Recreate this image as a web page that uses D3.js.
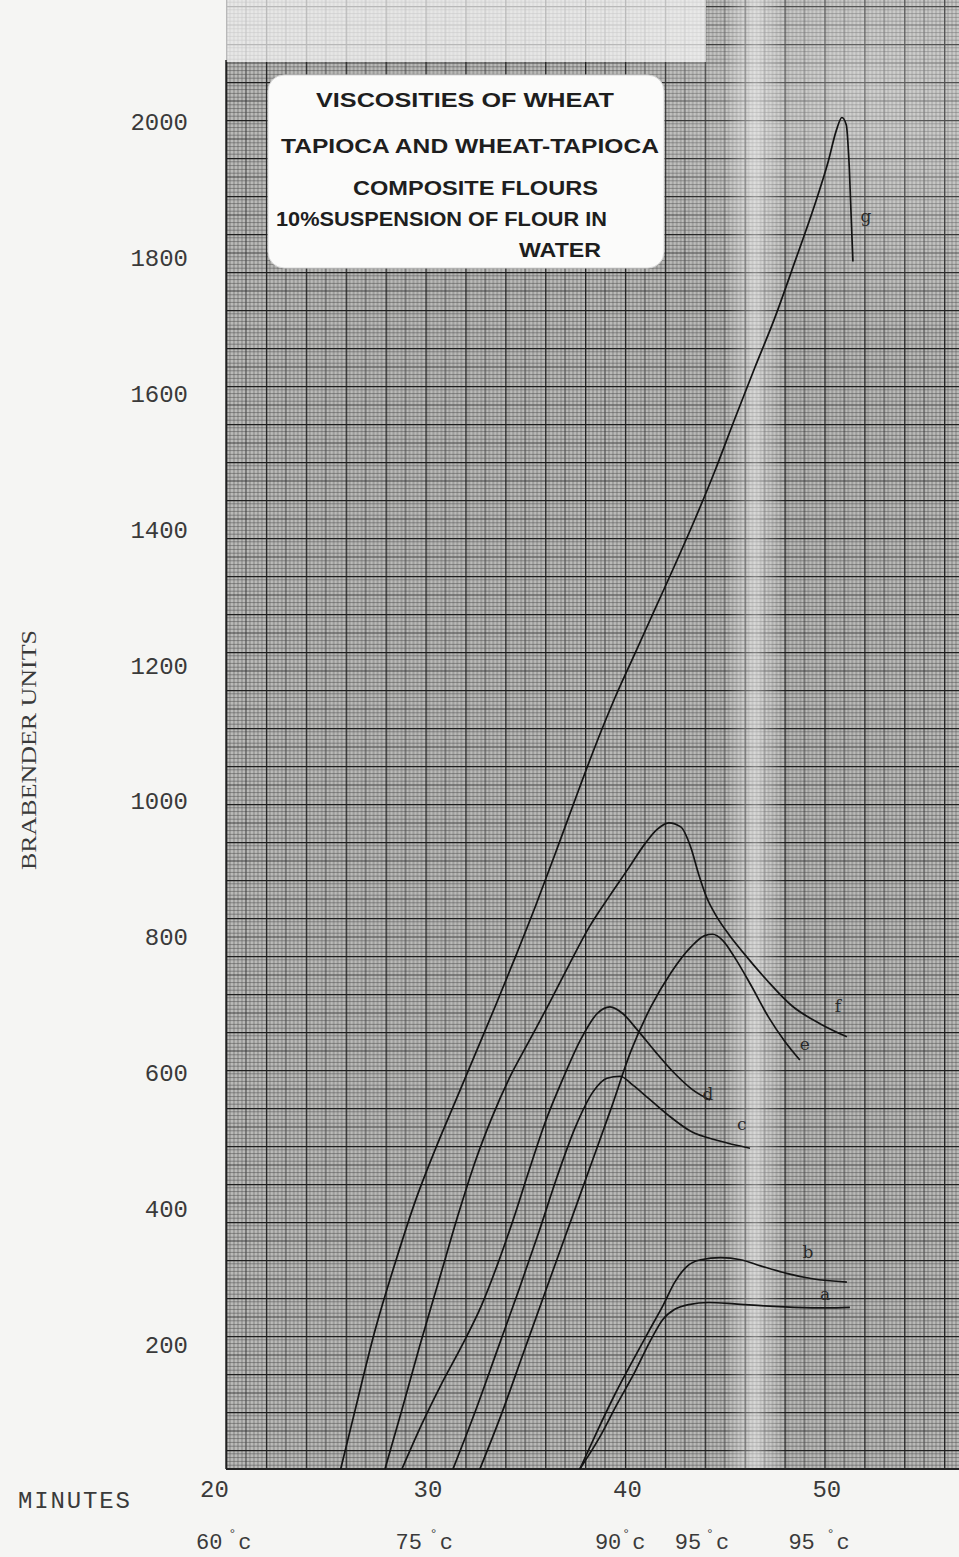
<!DOCTYPE html>
<html>
<head>
<meta charset="utf-8" />
<title>Viscosities of wheat, tapioca and wheat-tapioca composite flours</title>
<script src="https://d3js.org/d3.v7.min.js"></script>
<style>
    body { margin: 0; background: #f5f5f3; }
    svg { display: block; }
    .mono { font-family: "Liberation Mono", "DejaVu Sans Mono", monospace; fill: #3a3a3a; }
    .title { font-family: "Liberation Sans Narrow", "Arial Narrow", "Liberation Sans", sans-serif; fill: #1e1e1e; }
</style>
</head>
<body>
<script>
    // readings: [minutes, brabender units]
    var curveA = [[37.74, 25], [38.7, 70], [39.6, 120], [40.5, 168], [41.3, 215], [41.9, 245], [42.5, 260],
        [43.2, 267], [44.2, 270], [45.5, 268], [47.0, 265], [48.5, 263], [50.1, 262], [51.28, 263]]
    var curveB = [[37.74, 25], [38.6, 80], [39.5, 135], [40.4, 185], [41.2, 228], [41.9, 265], [42.5, 300],
        [43.1, 323], [43.8, 333], [44.8, 336], [45.8, 333], [46.8, 324], [48.1, 313], [49.4, 305], [51.13, 300]]
    var curveC = [[31.38, 25], [32.5, 110], [33.6, 200], [34.7, 290], [35.7, 375], [36.6, 455], [37.5, 527],
        [38.4, 580], [39.1, 600], [39.75, 603], [40.4, 590], [41.2, 570], [42.2, 545], [43.3, 522], [44.7, 508], [46.27, 497]]
    var curveD = [[28.82, 25], [29.8, 90], [30.8, 150], [31.8, 205], [32.8, 265], [33.6, 325], [34.4, 392],
        [35.2, 465], [36.0, 535], [36.9, 600], [37.8, 658], [38.6, 695], [39.25, 705], [39.9, 695], [40.6, 672],
        [41.5, 640], [42.4, 610], [43.4, 583], [44.26, 568]]
    var curveE = [[32.73, 25], [33.8, 105], [34.9, 195], [36.0, 285], [37.1, 375], [38.2, 465], [39.3, 555],
        [40.3, 640], [41.3, 705], [42.3, 755], [43.3, 793], [44.0, 810], [44.4, 812], [44.9, 803], [45.5, 778],
        [46.3, 738], [47.2, 690], [48.0, 655], [48.77, 627]]
    var curveF = [[27.97, 25], [28.8, 110], [29.7, 205], [30.7, 305], [31.7, 405], [32.5, 478], [33.3, 540],
        [34.2, 600], [35.2, 655], [36.2, 710], [37.2, 767], [38.2, 822], [39.2, 867], [40.2, 910], [41.0, 945],
        [41.6, 966], [42.2, 976], [42.8, 970], [43.3, 940], [43.7, 900], [44.1, 866], [44.6, 838], [45.2, 812],
        [45.9, 786], [47.1, 745], [48.4, 706], [49.8, 680], [51.13, 661]]
    var curveG = [[25.75, 25], [26.5, 115], [27.5, 232], [28.5, 330], [29.5, 420], [30.5, 496], [31.5, 566],
        [32.5, 636], [33.5, 706], [34.5, 778], [35.5, 852], [36.5, 930], [37.5, 1010], [38.5, 1088], [39.5, 1160],
        [40.5, 1225], [41.5, 1290], [42.5, 1355], [43.5, 1422], [44.5, 1493], [45.5, 1570], [46.5, 1645],
        [47.5, 1718], [48.5, 1800], [49.5, 1884], [50.2, 1950], [50.6, 1995], [50.88, 2014], [51.1, 2003],
        [51.25, 1940], [51.43, 1802]]

    var curveNames = ["a", "b", "c", "d", "e", "f", "g"]
    var curveData = [curveA, curveB, curveC, curveD, curveE, curveF, curveG]
    // where the hand written letter of each curve sits
    var labelPos = [[50.03, 274], [49.17, 336], [45.86, 524], [44.16, 568], [49.02, 642], [50.68, 698], [52.08, 1860]]

    var yTicks = [200, 400, 600, 800, 1000, 1200, 1400, 1600, 1800, 2000]
    var xTicks = [20, 30, 40, 50]
    var tempMinutes = [20, 30, 40, 44, 49.7]
    var tempText = ["60", "75", "90", "95", "95"]
    var tempGap = [6, 8, 1, 5, 12]

    var titleLines = ["VISCOSITIES OF WHEAT", "TAPIOCA  AND WHEAT-TAPIOCA", "COMPOSITE FLOURS",
        "10%SUSPENSION OF FLOUR IN", "WATER"]

    var W = 959, H = 1557
    var x = d3.scaleLinear().domain([20, 57]).range([226, 964])
    var y = d3.scaleLinear().domain([25, 2000]).range([1469, 127])
    var plot = { left: 226, right: W, top: 0, bottom: 1469 }

    var svg = d3.select("body").append("svg").attr("width", W).attr("height", H)
    var defs = svg.append("defs")

    // graph paper: heavy line every 2 minutes, fine lines in tenths
    var cellW = x(22) - x(20), cellH = 38
    var pat = defs.append("pattern").attr("id", "paper")
        .attr("patternUnits", "userSpaceOnUse")
        .attr("x", plot.left).attr("y", plot.bottom - cellH * 0.5)
        .attr("width", cellW).attr("height", cellH)
    pat.append("rect").attr("width", cellW).attr("height", cellH).attr("fill", "#bbbbb9")
    for (var i = 1; i < 10; i++) {
        var mid = i == 5
        pat.append("line").attr("x1", i * cellW / 10).attr("x2", i * cellW / 10).attr("y1", 0).attr("y2", cellH)
            .attr("stroke", mid ? "#333" : "#505050").attr("stroke-width", mid ? 1.1 : 0.9).attr("opacity", mid ? 0.9 : 0.6)
        pat.append("line").attr("y1", i * cellH / 10).attr("y2", i * cellH / 10).attr("x1", 0).attr("x2", cellW)
            .attr("stroke", mid ? "#333" : "#505050").attr("stroke-width", mid ? 1.1 : 0.9).attr("opacity", mid ? 0.9 : 0.6)
    }
    pat.append("line").attr("x1", 0.6).attr("x2", 0.6).attr("y1", 0).attr("y2", cellH).attr("stroke", "#1e1e1e").attr("stroke-width", 1.5)
    pat.append("line").attr("y1", 0.6).attr("y2", 0.6).attr("x1", 0).attr("x2", cellW).attr("stroke", "#1e1e1e").attr("stroke-width", 1.5)

    svg.append("rect").attr("x", plot.left).attr("y", plot.top)
        .attr("width", plot.right - plot.left).attr("height", plot.bottom - plot.top)
        .attr("fill", "url(#paper)")

    // lighter patches of the scanned sheet
    var band = defs.append("linearGradient").attr("id", "band")
    band.append("stop").attr("offset", "0%").attr("stop-color", "#fff").attr("stop-opacity", 0)
    band.append("stop").attr("offset", "50%").attr("stop-color", "#fff").attr("stop-opacity", 0.45)
    band.append("stop").attr("offset", "100%").attr("stop-color", "#fff").attr("stop-opacity", 0)
    svg.append("rect").attr("x", 725).attr("y", 0).attr("width", 60).attr("height", 1469).attr("fill", "url(#band)")

    var corner = defs.append("radialGradient").attr("id", "corner")
        .attr("gradientUnits", "userSpaceOnUse").attr("cx", 860).attr("cy", 80).attr("r", 260)
    corner.append("stop").attr("offset", "0%").attr("stop-color", "#fff").attr("stop-opacity", 0.35)
    corner.append("stop").attr("offset", "100%").attr("stop-color", "#fff").attr("stop-opacity", 0)
    svg.append("rect").attr("x", 600).attr("y", 0).attr("width", 359).attr("height", 360).attr("fill", "url(#corner)")

    svg.append("rect").attr("x", plot.left).attr("y", 0).attr("width", 480).attr("height", 62)
        .attr("fill", "#fafafa").attr("opacity", 0.7)

    svg.append("line").attr("x1", plot.left).attr("x2", plot.right).attr("y1", plot.bottom).attr("y2", plot.bottom)
        .attr("stroke", "#222").attr("stroke-width", 2)
    svg.append("line").attr("x1", plot.left).attr("x2", plot.left).attr("y1", 60).attr("y2", plot.bottom)
        .attr("stroke", "#222").attr("stroke-width", 1.5)

    // title box
    svg.append("rect").attr("x", 268).attr("y", 75).attr("width", 396).attr("height", 193).attr("rx", 16)
        .attr("fill", "#fbfbfa").attr("stroke", "#d8d8d8")
    var titleX = [316, 281, 353, 276, 519]
    var titleLen = [298, 378, 245, 331, 82]
    var titleY = [107, 153, 195, 226, 257]
    svg.append("g").selectAll("text").data(titleLines).enter().append("text")
        .attr("class", "title")
        .attr("x", (d, i) => titleX[i]).attr("y", (d, i) => titleY[i])
        .attr("textLength", (d, i) => titleLen[i]).attr("lengthAdjust", "spacingAndGlyphs")
        .style("font-size", "20px").style("font-weight", "bold")
        .text(d => d)

    // curves
    var line = d3.line().x(d => x(d[0])).y(d => y(d[1])).curve(d3.curveMonotoneX)
    svg.append("g").selectAll("path").data(curveData).enter().append("path")
        .attr("d", line).attr("fill", "none").attr("stroke", "#141414").attr("stroke-width", 1.7)

    svg.append("g").selectAll("text").data(labelPos).enter().append("text")
        .attr("x", d => x(d[0])).attr("y", d => y(d[1]))
        .attr("text-anchor", "middle")
        .style("font-family", "'DejaVu Serif', serif").style("font-size", "17px").style("fill", "#2a2a2a")
        .text((d, i) => curveNames[i])

    // axes
    var yAxis = svg.append("g").attr("transform", "translate(190,0)")
        .call(d3.axisLeft(y).tickValues(yTicks).tickSize(0).tickPadding(2).tickFormat(d3.format("d")))
    yAxis.select(".domain").remove()
    yAxis.selectAll("text").attr("class", "mono").attr("dy", "0.1em").style("font-size", "24px").attr("fill", "#3a3a3a")

    var xAxis = svg.append("g").attr("transform", "translate(0,1480)")
        .call(d3.axisBottom(x).tickValues(xTicks).tickSize(0).tickPadding(0).tickFormat(d3.format("d")))
    xAxis.select(".domain").remove()
    xAxis.selectAll("text").attr("class", "mono").style("font-size", "24px").attr("fill", "#3a3a3a")
        .attr("x", d => d == 20 ? -12 : 2)

    svg.append("text").attr("class", "mono").attr("x", 18).attr("y", 1508)
        .attr("textLength", 112).style("font-size", "24px").text("MINUTES")

    var temps = svg.append("g").selectAll("text").data(tempMinutes).enter().append("text")
        .attr("class", "mono").style("font-size", "22px")
        .attr("x", d => x(d) - 30).attr("y", 1549)
    temps.append("tspan").text((d, i) => tempText[i])
    temps.append("tspan").attr("dx", (d, i) => tempGap[i]).attr("dy", -11).style("font-size", "13px").text("°")
    temps.append("tspan").attr("dx", 2).attr("dy", 11).text("c")

    svg.append("text").attr("transform", "translate(36,750) rotate(-90)")
        .attr("text-anchor", "middle").attr("textLength", 240).attr("lengthAdjust", "spacingAndGlyphs")
        .style("font-family", "'Liberation Serif', serif").style("font-size", "21px").style("fill", "#3a3a3a")
        .text("BRABENDER  UNITS")
</script>
</body>
</html>
